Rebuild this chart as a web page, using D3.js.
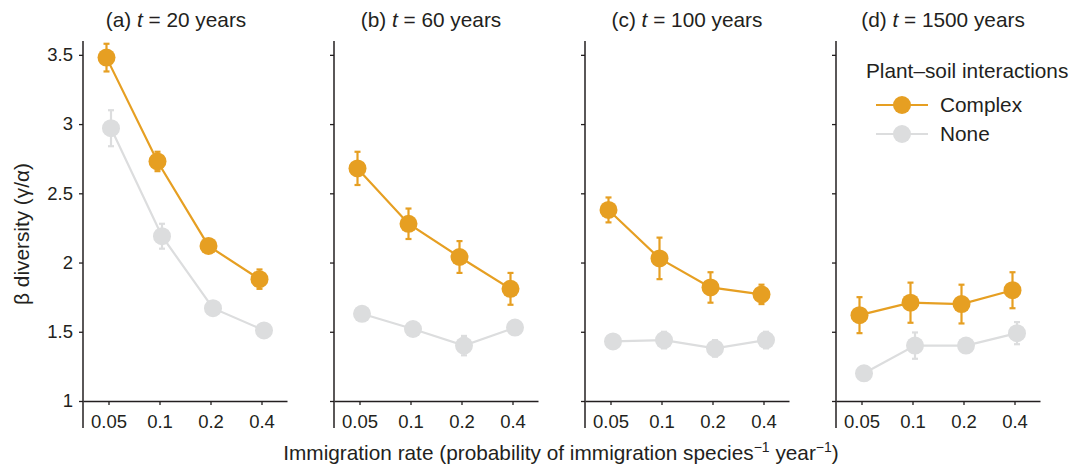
<!DOCTYPE html>
<html>
<head>
<meta charset="utf-8">
<script src="https://cdn.jsdelivr.net/npm/d3@7"></script>
<style>
  body { margin: 0; background: #fff; }
  text { font-family: "Liberation Sans", Arial, sans-serif; fill: #231f20; }
</style>
</head>
<body>
<div id="chart"></div>
<script>
// data
const rates = ['0.05', '0.1', '0.2', '0.4'];
const panelLetters = ['(a)', '(b)', '(c)', '(d)'];
const panelYears = [20, 60, 100, 1500];
const yTicks = [1, 1.5, 2, 2.5, 3, 3.5];

const complexMean = [
  [3.48, 2.73, 2.12, 1.88],
  [2.68, 2.28, 2.04, 1.81],
  [2.38, 2.03, 1.82, 1.77],
  [1.62, 1.71, 1.70, 1.80]
];
const complexErr = [
  [0.10, 0.07, 0.05, 0.07],
  [0.12, 0.11, 0.115, 0.115],
  [0.09, 0.15, 0.11, 0.07],
  [0.13, 0.145, 0.14, 0.13]
];
const noneMean = [
  [2.97, 2.19, 1.67, 1.51],
  [1.63, 1.52, 1.40, 1.53],
  [1.43, 1.44, 1.38, 1.44],
  [1.20, 1.40, 1.40, 1.49]
];
const noneErr = [
  [0.13, 0.09, 0.03, 0.03],
  [0.03, 0.03, 0.07, 0.05],
  [0.03, 0.06, 0.06, 0.06],
  [0.02, 0.095, 0.05, 0.08]
];

const orange = '#e69f22';
const grey = '#dcddde';
const axisCol = '#231f20';

const W = 1076, H = 466;
const panelW = 204, panelStep = 251, left0 = 83;
const titleX = [176, 431, 687, 943];
const tickFont = '18.5px', labelFont = '20.8px';

const svg = d3.select('#chart').append('svg')
  .attr('width', W).attr('height', H);

const x = d3.scalePoint().domain(rates).range([0, panelW]).padding(0.5);
const y = d3.scaleLinear().domain([1, 3.6]).range([401, 41]);

const series = [
  { name: 'None', color: grey, mean: noneMean, err: noneErr, dx: 2.5 },
  { name: 'Complex', color: orange, mean: complexMean, err: complexErr, dx: -2 }
];

panelYears.forEach(function (yr, i) {
  const g = svg.append('g').attr('transform', `translate(${left0 + i * panelStep},0)`);

  // axes
  const yAxis = d3.axisLeft(y).tickValues(yTicks).tickSize(4).tickPadding(6)
    .tickFormat(i === 0 ? d3.format('') : () => '');
  const ya = g.append('g').call(yAxis);
  ya.select('.domain').remove();
  ya.selectAll('line').attr('stroke', axisCol).attr('stroke-width', 1.3);
  ya.selectAll('text').style('font-size', tickFont).attr('fill', axisCol);

  g.append('line')
    .attr('x1', 0).attr('x2', 0).attr('y1', 41).attr('y2', 428)
    .attr('stroke', axisCol).attr('stroke-width', 1.5);

  const xAxis = d3.axisBottom(x).tickSize(4).tickSizeOuter(0).tickPadding(10);
  const xa = g.append('g').attr('transform', `translate(0,${y(1)})`).call(xAxis);
  xa.select('.domain').attr('stroke', axisCol).attr('stroke-width', 1.5);
  xa.selectAll('line').attr('stroke', axisCol).attr('stroke-width', 1.3);
  xa.selectAll('text').style('font-size', tickFont).attr('fill', axisCol);

  // title
  const t = svg.append('text')
    .attr('x', titleX[i]).attr('y', 27)
    .attr('text-anchor', 'middle')
    .style('font-size', labelFont);
  t.append('tspan').text(panelLetters[i] + ' ');
  t.append('tspan').style('font-style', 'italic').text('t');
  t.append('tspan').text(' = ' + yr + ' years');

  // series
  series.forEach(function (s) {
    const pts = rates.map((r, k) => ({ r: r, m: s.mean[i][k], e: s.err[i][k] }));
    const line = d3.line().x(d => x(d.r) + s.dx).y(d => y(d.m));
    g.append('path').datum(pts)
      .attr('d', line).attr('fill', 'none')
      .attr('stroke', s.color).attr('stroke-width', 2.2);

    const eb = g.selectAll(null).data(pts).enter().append('g')
      .attr('stroke', s.color).attr('stroke-width', 2.2);
    eb.append('line')
      .attr('x1', d => x(d.r) + s.dx).attr('x2', d => x(d.r) + s.dx)
      .attr('y1', d => y(d.m - d.e)).attr('y2', d => y(d.m + d.e));
    eb.append('line')
      .attr('x1', d => x(d.r) + s.dx - 3).attr('x2', d => x(d.r) + s.dx + 3)
      .attr('y1', d => y(d.m + d.e)).attr('y2', d => y(d.m + d.e));
    eb.append('line')
      .attr('x1', d => x(d.r) + s.dx - 3).attr('x2', d => x(d.r) + s.dx + 3)
      .attr('y1', d => y(d.m - d.e)).attr('y2', d => y(d.m - d.e));

    g.selectAll(null).data(pts).enter().append('circle')
      .attr('cx', d => x(d.r) + s.dx).attr('cy', d => y(d.m))
      .attr('r', 9).attr('fill', s.color);
  });
});

// y label
svg.append('text')
  .attr('transform', 'translate(29,234) rotate(-90)')
  .attr('text-anchor', 'middle')
  .style('font-size', labelFont)
  .text('β diversity (γ/α)');

// x label
const xl = svg.append('text')
  .attr('x', 561).attr('y', 460)
  .attr('text-anchor', 'middle')
  .style('font-size', labelFont);
xl.append('tspan').text('Immigration rate (probability of immigration species');
xl.append('tspan').attr('dy', -8).style('font-size', '14px').text('−1');
xl.append('tspan').attr('dy', 8).text(' year');
xl.append('tspan').attr('dy', -8).style('font-size', '14px').text('−1');
xl.append('tspan').attr('dy', 8).text(')');

// legend
const legend = svg.append('g').attr('transform', 'translate(866,0)');
legend.append('text').attr('x', 0).attr('y', 78)
  .style('font-size', labelFont).text('Plant–soil interactions');
[series[1], series[0]].forEach(function (s, k) {
  const ly = 105 + k * 29;
  legend.append('line').attr('x1', 10).attr('x2', 62).attr('y1', ly).attr('y2', ly)
    .attr('stroke', s.color).attr('stroke-width', 2.2);
  legend.append('circle').attr('cx', 36).attr('cy', ly).attr('r', 9).attr('fill', s.color);
  legend.append('text').attr('x', 74).attr('y', ly + 7)
    .style('font-size', labelFont).text(s.name);
});
</script>
</body>
</html>
